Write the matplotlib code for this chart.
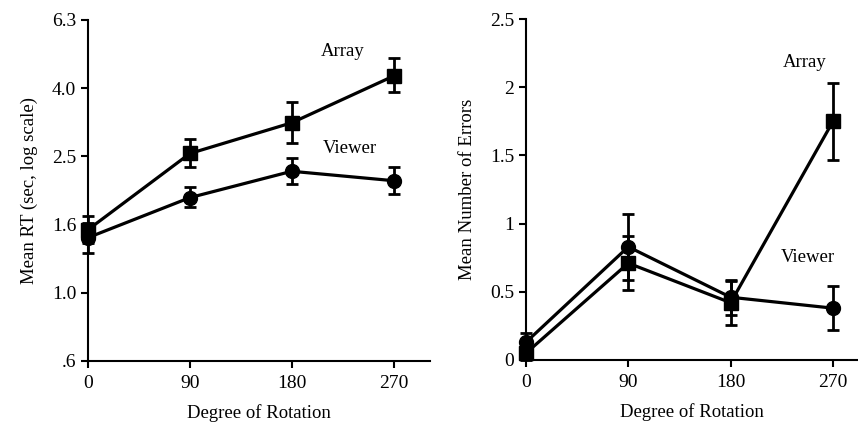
import matplotlib.pyplot as plt
import numpy as np

plt.rcParams['font.family'] = ['Liberation Serif', 'DejaVu Serif']

# degree of rotation
deg = [0, 90, 180, 270]

# mean RT (sec), log scale panel
rt_array = [1.53, 2.56, 3.15, 4.32]
rt_array_lo = [1.40, 2.33, 2.74, 3.87]
rt_array_hi = [1.68, 2.82, 3.62, 4.88]
rt_viewer = [1.45, 1.90, 2.27, 2.13]
rt_viewer_lo = [1.31, 1.78, 2.09, 1.95]
rt_viewer_hi = [1.60, 2.04, 2.49, 2.33]

# mean number of errors
err_array = [0.05, 0.71, 0.42, 1.75]
err_array_sd = [0.05, 0.20, 0.16, 0.28]
err_viewer = [0.13, 0.83, 0.46, 0.38]
err_viewer_sd = [0.07, 0.24, 0.13, 0.16]

fig = plt.figure(figsize=(8.58, 4.24), dpi=100)
ax1 = fig.add_axes([0.1026, 0.149, 0.3984, 0.804])
ax2 = fig.add_axes([0.613, 0.151, 0.387, 0.804])

kw = dict(color='black', lw=2.3, capsize=4, capthick=2, elinewidth=2, ms=10, clip_on=False)

def yerr(v, lo, hi):
    v = np.array(v)
    return [v - np.array(lo), np.array(hi) - v]

ax1.errorbar(deg, rt_array, yerr=yerr(rt_array, rt_array_lo, rt_array_hi), marker='s', **kw)
ax1.errorbar(deg, rt_viewer, yerr=yerr(rt_viewer, rt_viewer_lo, rt_viewer_hi), marker='o', **kw)
ax1.set_yscale('log')
ticks = [10 ** (-0.2 + 0.2 * k) for k in range(6)]
ax1.set_ylim(ticks[0], ticks[-1])
ax1.set_yticks(ticks)
ax1.set_yticklabels(['.6', '1.0', '1.6', '2.5', '4.0', '6.3'])
ax1.minorticks_off()
ax1.set_xlim(0, 302)
ax1.set_ylabel('Mean RT (sec, log scale)', fontsize=13.5, labelpad=10)
ax1.text(225, 5.09, 'Array', fontsize=13.5, ha='center', va='center')
ax1.text(231, 2.64, 'Viewer', fontsize=13.5, ha='center', va='center')

ax2.errorbar(deg, err_array, yerr=err_array_sd, marker='s', **kw)
ax2.errorbar(deg, err_viewer, yerr=err_viewer_sd, marker='o', **kw)
ax2.set_ylim(0, 2.5)
ax2.set_yticks([0, 0.5, 1, 1.5, 2, 2.5])
ax2.set_yticklabels(['0', '0.5', '1', '1.5', '2', '2.5'])
ax2.set_xlim(0, 292)
ax2.set_ylabel('Mean Number of Errors', fontsize=13.5, labelpad=10)
ax2.text(245, 2.18, 'Array', fontsize=13.5, ha='center', va='center')
ax2.text(248, 0.75, 'Viewer', fontsize=13.5, ha='center', va='center')

for ax in (ax1, ax2):
    ax.set_xticks(deg)
    ax.set_xlabel('Degree of Rotation', fontsize=13.5, labelpad=9)
    ax.spines['top'].set_visible(False)
    ax.spines['right'].set_visible(False)
    ax.spines['left'].set_linewidth(1.5)
    ax.spines['bottom'].set_linewidth(1.5)
    ax.tick_params(width=1.5, length=5, labelsize=14)
    ax.tick_params(axis='x', pad=5)

fig.savefig('out.png', dpi=100)
